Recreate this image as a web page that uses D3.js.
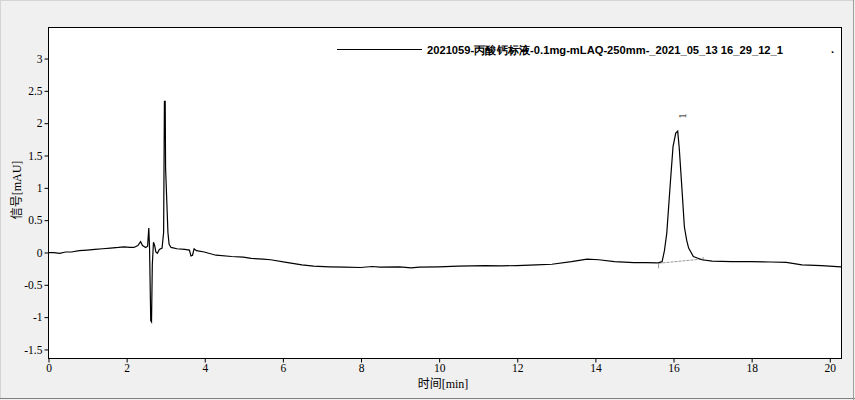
<!DOCTYPE html>
<html><head><meta charset="utf-8">
<script src="https://cdn.jsdelivr.net/npm/d3@7"></script>
<style>
html,body{margin:0;padding:0;background:#f0f0f0;}
svg{display:block;}
</style></head>
<body>
<svg id="c" width="855" height="400"></svg>
<script>
const seriesName = "2021059-丙酸钙标液-0.1mg-mLAQ-250mm-_2021_05_13 16_29_12_1";
const times = [0.00,0.15,0.3,0.45,0.6,0.8,1.0,1.2,1.4,1.6,1.8,1.95,2.1,2.2,2.3,2.37,2.42,2.50,2.55,2.58,2.60,2.63,2.65,2.67,2.70,2.73,2.76,2.80,2.85,2.92,2.96,2.98,3.00,3.01,3.04,3.07,3.10,3.15,3.3,3.5,3.62,3.66,3.70,3.74,3.80,4.0,4.3,4.7,5.0,5.2,5.5,5.7,6.1,6.5,6.8,7.2,7.6,8.0,8.3,8.5,9.0,9.3,9.5,10.0,10.5,11.2,11.6,12.0,12.5,12.9,13.4,13.8,14.1,14.5,15.0,15.3,15.6,15.72,15.78,15.84,15.93,16.00,16.07,16.12,16.16,16.23,16.29,16.35,16.40,16.52,16.74,17.0,17.5,18.0,18.5,18.9,19.3,19.8,20.3];
const signal = [-0.01,-0.01,-0.02,0.0,0.0,0.02,0.03,0.04,0.05,0.06,0.07,0.08,0.07,0.07,0.10,0.16,0.10,0.07,0.09,0.37,0.05,-1.06,-1.08,-0.2,0.15,0.10,0.00,-0.02,0.04,0.06,0.3,2.33,2.33,1.3,0.8,0.3,0.12,0.07,0.05,0.04,0.03,-0.06,-0.05,0.05,0.02,0.0,-0.05,-0.07,-0.08,-0.1,-0.11,-0.12,-0.16,-0.2,-0.22,-0.23,-0.235,-0.24,-0.225,-0.235,-0.23,-0.245,-0.235,-0.23,-0.22,-0.21,-0.215,-0.21,-0.2,-0.19,-0.15,-0.11,-0.12,-0.15,-0.165,-0.165,-0.17,-0.15,0.02,0.29,1.06,1.63,1.84,1.87,1.6,0.96,0.39,0.18,0.06,-0.07,-0.12,-0.14,-0.15,-0.15,-0.155,-0.16,-0.2,-0.21,-0.23];
const baselineTimes = [15.63,16.77];
const baselineValues = [-0.175,-0.108];
const peakTimes = [16.12];
const peakValues = [1.87];
const peakLabels = ["1"];
const xTicks = [0,2,4,6,8,10,12,14,16,18,20];
const yTicks = [-1.5,-1,-0.5,0,0.5,1,1.5,2,2.5,3];

const svg = d3.select("#c");
const W = 855, H = 400;
const m = {left:48, top:27, right:841, bottom:358};

svg.append("rect").attr("x",0).attr("y",0).attr("width",W).attr("height",H).attr("fill","#f0f0f0");
svg.append("rect").attr("x",0.5).attr("y",0.5).attr("width",W-2).attr("height",H-2)
  .attr("fill","none").attr("stroke","#d4d4d4");
svg.append("line").attr("x1",0).attr("x2",W).attr("y1",H-1.5).attr("y2",H-1.5).attr("stroke","#808080").attr("stroke-width",1);
svg.append("line").attr("x1",W-1.5).attr("x2",W-1.5).attr("y1",0).attr("y2",H).attr("stroke","#a0a0a0").attr("stroke-width",1);

const x = d3.scaleLinear().domain([0,20.3]).range([m.left,m.right]);
const y = d3.scaleLinear().domain([-1.64,3.48]).range([m.bottom,m.top]);

svg.append("rect").attr("x",m.left+0.5).attr("y",m.top+0.5)
  .attr("width",m.right-m.left).attr("height",m.bottom-m.top)
  .attr("fill","#ffffff").attr("stroke","#000").attr("stroke-width",1);

const serif = "'Liberation Serif','Times New Roman',serif";
const sans = "'Liberation Sans',Arial,sans-serif";

const xAxis = svg.append("g").attr("transform",`translate(0.5,${m.bottom+0.5})`)
  .call(d3.axisBottom(x).tickValues(xTicks).tickSize(4).tickPadding(1).tickFormat(d3.format("d")));
xAxis.select(".domain").remove();
xAxis.selectAll("text").attr("font-family",serif).attr("font-size",11.5).attr("fill","#000");

const yAxis = svg.append("g").attr("transform",`translate(${m.left+0.5},0.5)`)
  .call(d3.axisLeft(y).tickValues(yTicks).tickSize(4).tickPadding(2).tickFormat(d=>String(d)));
yAxis.select(".domain").remove();
yAxis.selectAll("text").attr("font-family",serif).attr("font-size",11.5).attr("fill","#000");

const xt = svg.append("text").attr("x",443).attr("y",388).attr("text-anchor","middle").attr("font-size",12);
xt.append("tspan").attr("font-family","'Noto Sans CJK SC',sans-serif").text("时间");
xt.append("tspan").attr("font-family",serif).text("[min]");
const yt = svg.append("text").attr("transform","translate(21,190) rotate(-90)").attr("text-anchor","middle").attr("font-size",12);
yt.append("tspan").attr("font-family","'Noto Sans CJK SC',sans-serif").text("信号");
yt.append("tspan").attr("font-family",serif).text("[mAU]");

svg.append("clipPath").attr("id","clip").append("rect")
  .attr("x",m.left+1).attr("y",m.top+1).attr("width",m.right-m.left-1).attr("height",m.bottom-m.top-1);

svg.append("line").attr("clip-path","url(#clip)")
  .attr("x1",x(baselineTimes[0])).attr("y1",y(baselineValues[0]))
  .attr("x2",x(baselineTimes[1])).attr("y2",y(baselineValues[1]))
  .attr("stroke","#999").attr("stroke-width",1).attr("stroke-dasharray","3,1");
svg.append("line")
  .attr("x1",x(baselineTimes[0])).attr("y1",y(baselineValues[0]))
  .attr("x2",x(baselineTimes[0])).attr("y2",y(baselineValues[0])+5)
  .attr("stroke","#999");
svg.append("line")
  .attr("x1",x(baselineTimes[1])).attr("y1",y(baselineValues[1])-2)
  .attr("x2",x(baselineTimes[1])).attr("y2",y(baselineValues[1])+2)
  .attr("stroke","#999");

const pts = times.map((t,i)=>[t,signal[i]]);
svg.append("path").datum(pts).attr("clip-path","url(#clip)")
  .attr("d",d3.line().x(d=>x(d[0])).y(d=>y(d[1])))
  .attr("fill","none").attr("stroke","#000").attr("stroke-width",1.2);

peakTimes.forEach((t,i)=>{
  svg.append("text").attr("transform",`translate(${x(t)+8},${y(peakValues[i])-15}) rotate(-90)`)
    .attr("text-anchor","middle").attr("font-family",serif).attr("font-size",11).text(peakLabels[i]);
});

svg.append("line").attr("x1",337).attr("x2",422).attr("y1",49.5).attr("y2",49.5).attr("stroke","#000").attr("stroke-width",1);
svg.append("text").attr("x",427).attr("y",53.5).attr("font-family",sans).attr("font-weight","bold")
  .attr("font-size",11).attr("textLength",356).attr("lengthAdjust","spacingAndGlyphs").text(seriesName);
svg.append("text").attr("x",831).attr("y",53).attr("font-family",sans).attr("font-weight","bold").attr("font-size",11).text(".");
</script>
</body></html>
